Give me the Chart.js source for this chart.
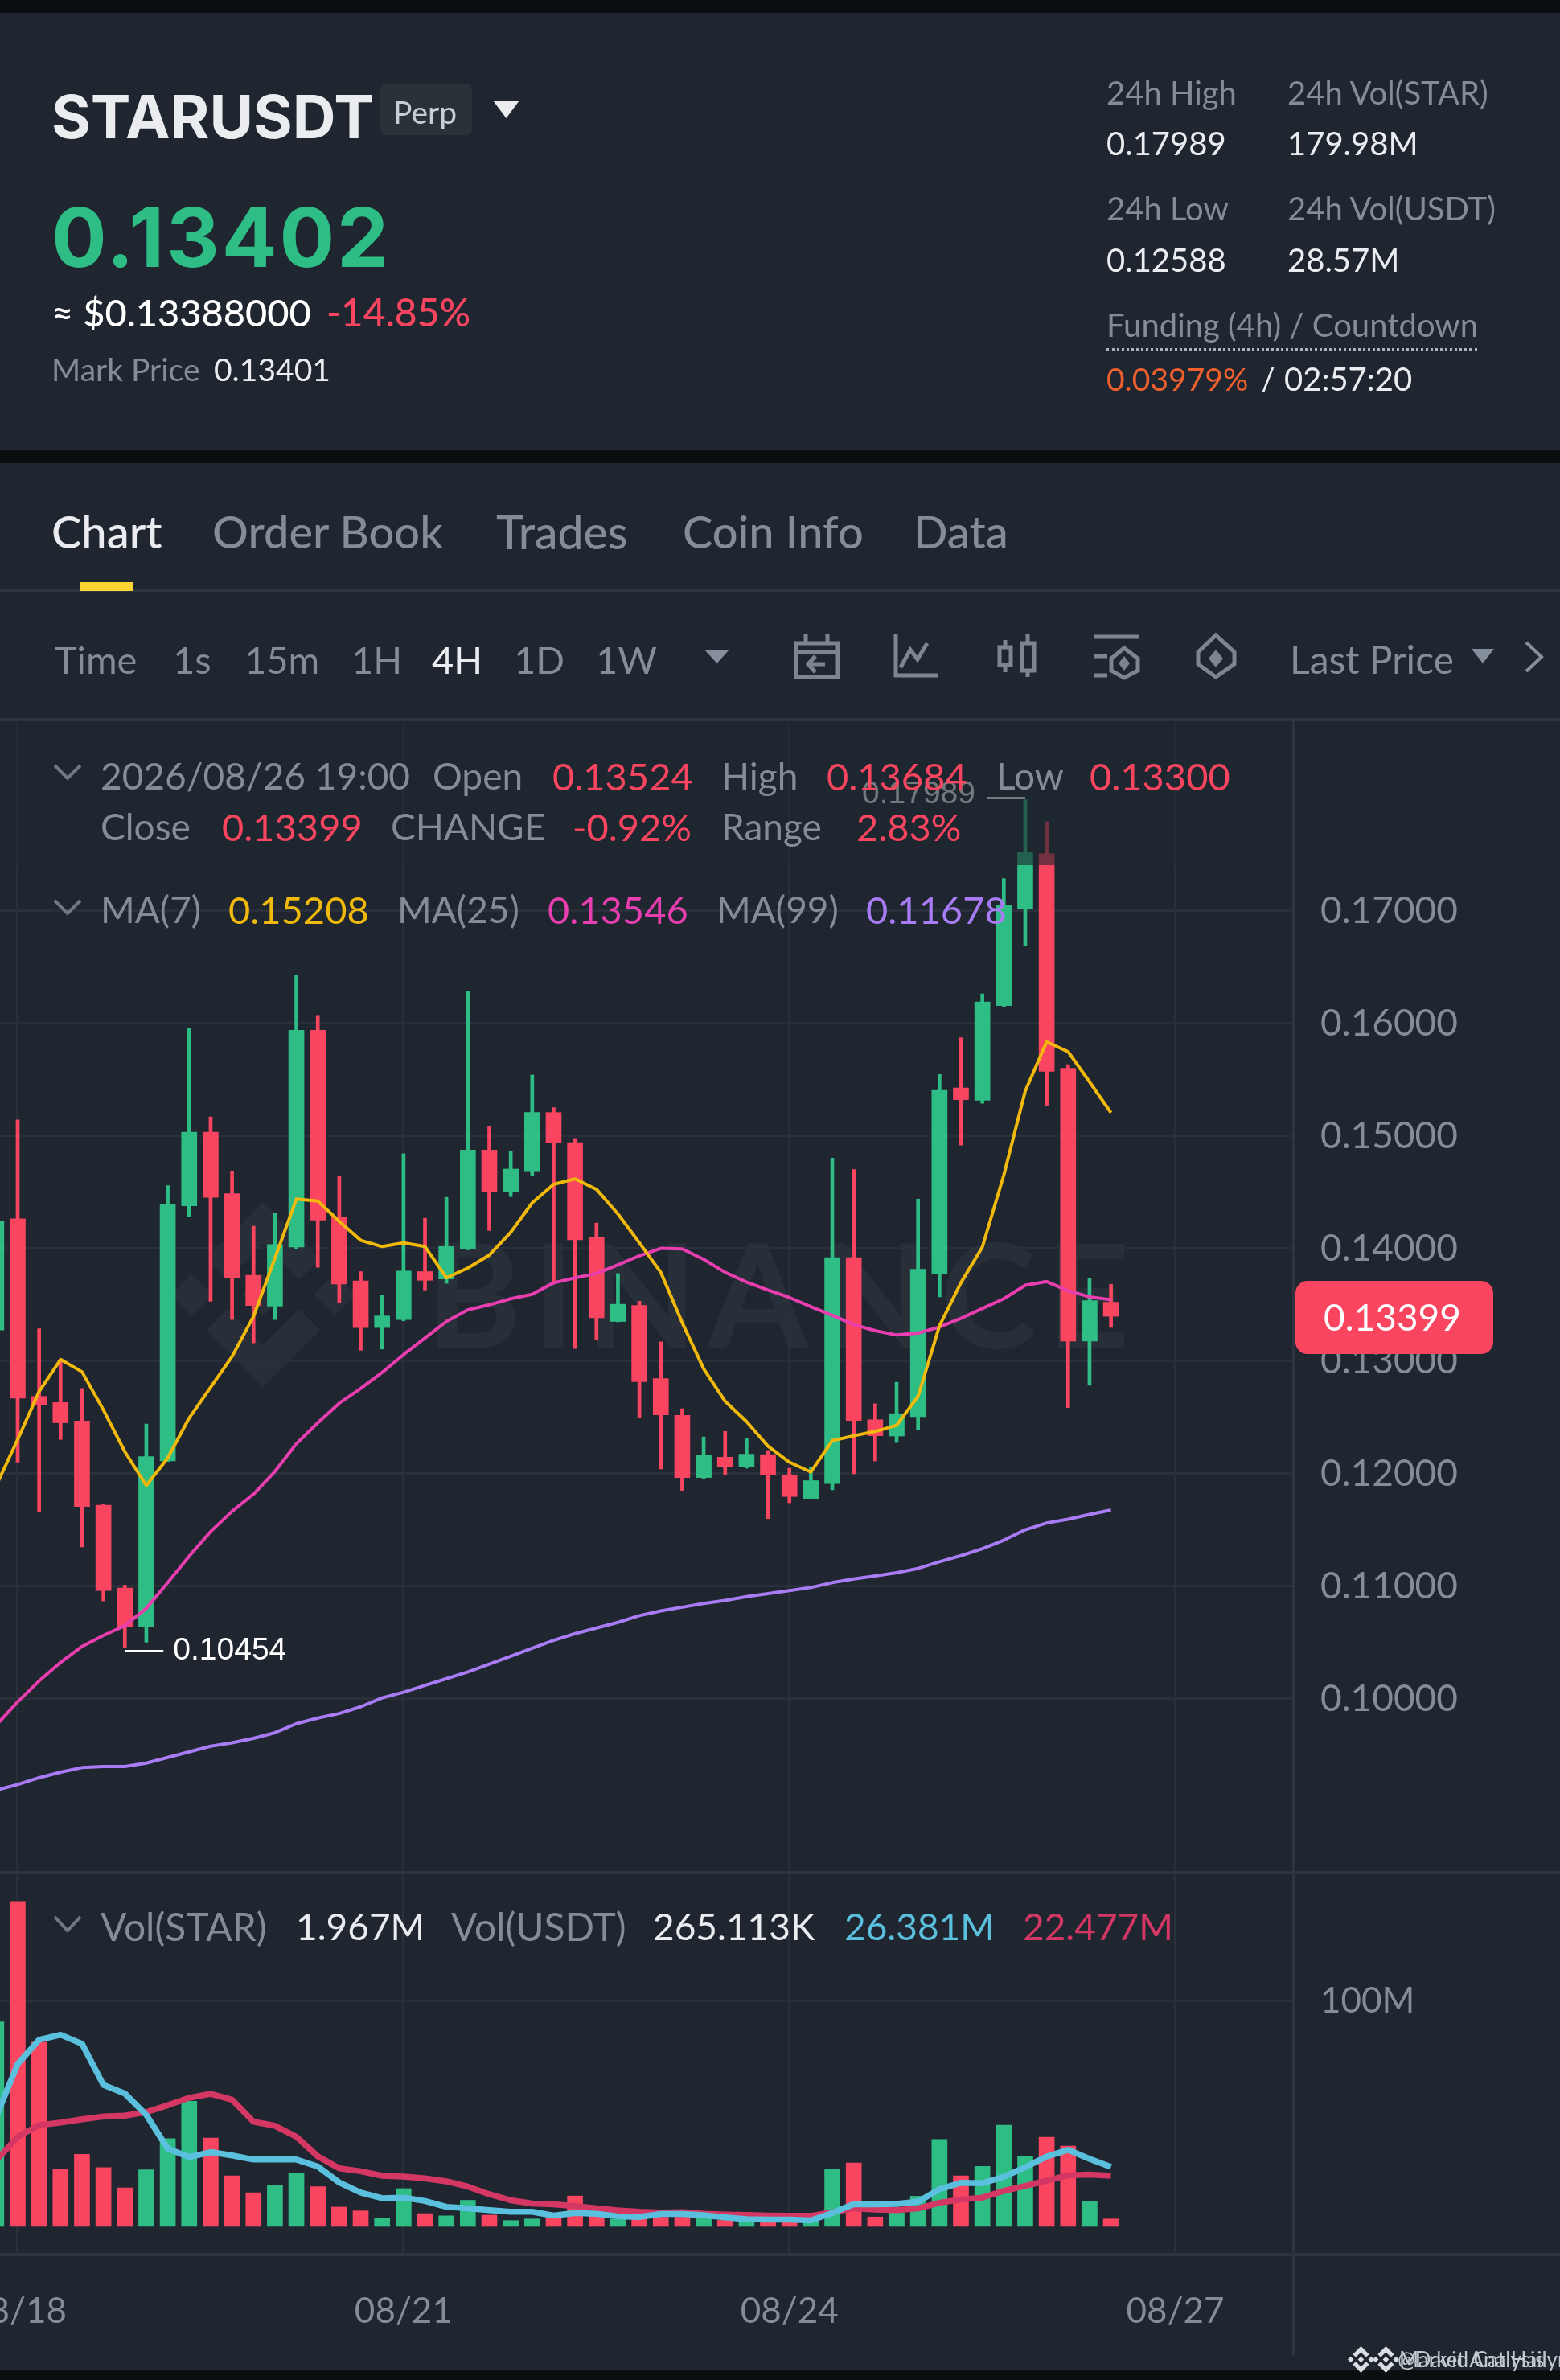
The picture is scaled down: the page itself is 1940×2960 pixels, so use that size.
<!DOCTYPE html>
<html>
<head>
<meta charset="utf-8">
<title>STARUSDT</title>
<script src="https://cdn.jsdelivr.net/npm/chart.js@4/dist/chart.umd.min.js"></script>
<style>
html,body{margin:0;padding:0;background:#0b0e11;}
#page{position:relative;width:1940px;height:2960px;overflow:hidden;background:#0b0e11;font-family:Lato,sans-serif;}
.panel{position:absolute;left:0;width:1940px;background:#1f2630;}
.rule{position:absolute;background:#2e3541;}
.t{position:absolute;white-space:nowrap;transform:translateY(-50%);line-height:1;}
canvas{position:absolute;left:0;}
svg{position:absolute;left:0;top:0;}
</style>
</head>
<body>
<div id="page">
  <div class="panel" style="top:16px;height:544px"></div>
  <div class="panel" style="top:576px;height:2371px"></div>

  <svg width="1940" height="2960" style="z-index:1">
    <g fill="#ffffff" opacity="0.045">
      <g transform="translate(212,1495) scale(1.82)">
        <path d="M38.73 53.2l24.59-24.58 24.6 24.6 14.3-14.31L63.32 0 24.42 38.9zM0 63.31l14.3-14.31 14.31 14.31-14.31 14.3zM38.73 73.41l24.59 24.59 24.6-24.6 14.31 14.29-38.9 38.91-38.91-38.88zM98 63.31l14.3-14.31 14.31 14.3-14.31 14.32zM77.83 63.3L63.32 48.78 52.59 59.51l-1.24 1.23-2.54 2.54 14.51 14.5 14.51-14.47z"/>
      </g>
      <text x="530" y="1677" font-family="Lato" font-weight="700" font-size="180" textLength="875">BINANCE</text>
    </g>
  </svg>

  <canvas id="priceChart" width="1940" height="1435" style="top:893px;z-index:2"></canvas>
  <canvas id="volChart" width="1940" height="618" style="top:2329px;z-index:2"></canvas>

  <div style="position:absolute;left:0;top:897px;width:1607px;height:179px;background:rgba(31,38,48,0.62);z-index:3"></div>

  <div class="rule" style="left:0;top:732px;width:1940px;height:4px;z-index:4"></div>
  <div class="rule" style="left:0;top:893px;width:1940px;height:4px;z-index:4"></div>
  <div class="rule" style="left:0;top:2327px;width:1940px;height:4px;z-index:4"></div>
  <div class="rule" style="left:0;top:2802px;width:1940px;height:4px;z-index:4"></div>
  <div class="rule" style="left:1607px;top:893px;width:3px;height:2037px;z-index:4"></div>
  <div style="position:absolute;left:100px;top:724px;width:65px;height:11px;background:#fcd535;z-index:5"></div>
  <div style="position:absolute;left:473px;top:104px;width:114px;height:64px;border-radius:8px;background:#2b3139;z-index:4"></div>
  <div style="position:absolute;left:1376px;top:433px;width:461px;border-top:3px dotted #aeb4bc;z-index:4"></div>

  <svg width="1940" height="2960" style="z-index:5">
    <polygon points="613,125 646,125 629.5,147" fill="#eaecef"/>
    <polygon points="876,808 907,808 891.5,825" fill="#848e9c"/>
    <polygon points="1830,807 1858,807 1844,825" fill="#848e9c"/>
    <polyline points="1898,799 1917,817 1898,835" fill="none" stroke="#848e9c" stroke-width="4"/>
    <g fill="none" stroke="#7d8592" stroke-width="5">
      <rect x="990" y="800" width="52" height="42"/>
      <path d="M990 811H1042M1002 788V800M1029 788V800M1026 826H1006M1014 816L1005 826L1014 836"/>
      <path d="M1114 788V840H1167M1120 830L1132 808L1141 820L1153 800"/>
      <rect x="1243" y="805" width="14" height="22"/>
      <rect x="1271" y="800" width="15" height="34"/>
      <path d="M1250 796V805M1250 827V836M1278 789V800M1278 834V842"/>
      <path d="M1361 792H1416M1361 816H1377M1361 840H1377M1398 806L1415 819V834L1398 843L1382 834V819Z"/>
      <path d="M1512 790L1535 811V826L1512 842L1490 826V811Z"/>
    </g>
    <polygon points="1398,816 1405,825 1398,834 1391,825" fill="#7d8592"/>
    <polygon points="1512,808 1521,819 1512,830 1503,819" fill="#7d8592"/>
    <polyline points="68,952 84,968 100,952" fill="none" stroke="#6f7785" stroke-width="4"/>
    <polyline points="68,1120 84,1136 100,1120" fill="none" stroke="#6f7785" stroke-width="4"/>
    <polyline points="68,2384 84,2401 100,2384" fill="none" stroke="#6f7785" stroke-width="4"/>
    <g fill="#d9dce1">
      <g transform="translate(1676,2918) scale(0.26)"><path d="M38.73 53.2l24.59-24.58 24.6 24.6 14.3-14.31L63.32 0 24.42 38.9zM0 63.31l14.3-14.31 14.31 14.31-14.31 14.3zM38.73 73.41l24.59 24.59 24.6-24.6 14.31 14.29-38.9 38.91-38.91-38.88zM98 63.31l14.3-14.31 14.31 14.3-14.31 14.32zM77.83 63.3L63.32 48.78 52.59 59.51l-1.24 1.23-2.54 2.54 14.51 14.5 14.51-14.47z"/></g>
      <g transform="translate(1707,2918) scale(0.26)"><path d="M38.73 53.2l24.59-24.58 24.6 24.6 14.3-14.31L63.32 0 24.42 38.9zM0 63.31l14.3-14.31 14.31 14.31-14.31 14.3zM38.73 73.41l24.59 24.59 24.6-24.6 14.31 14.29-38.9 38.91-38.91-38.88zM98 63.31l14.3-14.31 14.31 14.3-14.31 14.32zM77.83 63.3L63.32 48.78 52.59 59.51l-1.24 1.23-2.54 2.54 14.51 14.5 14.51-14.47z"/></g>
    </g>
  </svg>
</div>

<script>
// candles, one per 4 hours
var opens = [.13277,.14265,.12687,.12633,.12469,.11720,.10984,.10640,.12114,.14380,.15035,.14489,.13763,.13490,.14014,.15941,.14276,.13714,.13299,.13370,.13796,.13730,.13998,.14876,.14505,.14691,.15209,.14942,.14101,.13353,.13495,.12846,.12518,.11967,.12147,.12060,.12170,.11983,.11781,.11912,.13921,.12480,.12335,.12507,.13779,.15428,.15319,.16159,.17016,.17508,.15602,.13179,.13524];
var highs = [.14500,.15144,.13288,.13015,.12758,.11732,.11011,.12442,.14560,.15957,.15171,.14691,.14200,.14314,.16427,.16072,.14642,.13796,.13588,.14844,.14270,.14456,.16290,.15084,.14866,.15542,.15253,.14980,.14227,.13779,.13533,.13173,.12578,.12327,.12376,.12311,.12207,.12049,.12060,.14805,.14702,.12622,.12813,.14440,.15548,.15875,.16263,.17289,.17989,.17792,.15635,.13741,.13684];
var lows = [.13000,.12103,.11661,.12305,.11350,.10870,.10454,.10504,.12110,.14281,.13533,.13370,.13162,.13370,.14000,.13834,.13523,.13097,.13108,.13360,.13632,.13692,.13990,.14161,.14462,.14647,.13686,.13113,.13195,.13350,.12496,.12043,.11852,.11960,.11994,.12050,.11601,.11743,.11780,.11858,.12000,.12114,.12278,.12393,.13572,.14920,.15291,.16150,.16694,.15270,.12588,.12786,.13300];
var closes = [.14243,.12671,.12616,.12453,.11710,.10962,.10640,.12152,.14390,.15035,.14456,.13741,.13495,.14036,.15941,.14254,.13686,.13299,.13402,.13801,.13719,.14019,.14876,.14505,.14707,.15209,.14942,.14079,.13386,.13506,.12818,.12524,.11967,.12163,.12060,.12174,.11994,.11798,.11939,.13921,.12474,.12338,.12534,.13817,.15406,.15324,.16192,.17055,.17519,.15575,.13179,.13539,.13399];

var ma7 = [.11896,.12305,.12731,.13015,.12906,.12567,.12196,.11896,.12141,.12496,.12769,.13042,.13397,.13916,.14440,.14423,.14243,.14074,.14019,.14052,.14019,.13741,.13828,.13943,.14145,.14407,.14571,.14620,.14527,.14309,.14052,.13790,.13342,.12933,.12644,.12464,.12245,.12103,.12016,.12294,.12338,.12376,.12431,.12687,.13315,.13697,.14014,.14653,.15400,.15837,.15750,.15482,.15208];
var ma25 = [.09767,.09974,.10160,.10324,.10466,.10564,.10651,.10804,.11033,.11268,.11486,.11667,.11819,.12021,.12267,.12453,.12627,.12758,.12900,.13059,.13206,.13353,.13457,.13501,.13555,.13594,.13697,.13741,.13779,.13856,.13937,.14003,.13998,.13905,.13790,.13703,.13632,.13566,.13484,.13408,.13326,.13271,.13233,.13250,.13304,.13381,.13468,.13555,.13675,.13708,.13626,.13572,.13546];
var ma99 = [.0919,.0924,.0930,.0935,.0939,.0940,.0940,.0943,.0948,.0953,.0958,.0961,.0965,.0970,.0978,.0983,.0987,.0993,.1001,.1006,.1012,.1018,.1024,.1031,.1038,.1045,.1052,.1058,.1063,.1068,.1074,.10782,.10815,.10848,.10875,.10908,.10935,.10962,.10990,.11033,.11066,.11093,.11121,.11159,.11219,.11273,.11334,.11410,.11503,.11563,.11596,.11639,.11678];

// volume in millions of STAR
var volumes = [90.8,144.3,81.8,25.2,32,26.1,17.1,25.1,39,55.6,39.2,22.5,15,18.2,23.7,17.6,8.6,6.9,3.8,16.8,5.7,4.7,11.6,5,2.6,3.3,4.5,13.5,6,3.3,4,4.1,4.1,3.8,2.7,2.7,2.7,2.7,2.7,25.2,28.2,4.2,6,13.4,38.6,22.5,26.7,45,31.1,39.6,35.7,11.1,3.3];
var volMaBlue = [48.8,72.1,82.9,85.1,81.1,62.8,59,49.5,34.5,30.8,33,31.5,29.7,29.7,29.7,26.6,19.5,15,12.5,12.8,11.3,8.7,8,7.2,6.5,6.5,4.8,6,5.6,4.5,4.2,5.5,5.5,5,4,3.2,3,3,2.7,6,9.9,9.8,10,11,16.5,19.4,19.2,22,26.3,31,34,30,26.4];
var volMaRed = [29.3,39.8,45,46.1,47.6,48.8,49.2,50.8,53.8,57.1,58.9,56.3,46.5,44.7,39.8,31.1,25.8,24.5,22.5,22.1,21.3,20,17.7,14.3,11.6,10.2,9.8,9,8,7.1,6.5,6.2,6.3,5.6,5.3,5.1,4.8,4.7,4.7,6.3,8,7.5,7.2,8,10.5,12,12.8,15.8,18,20.3,22.7,23,22.5];

var priceTicks = [.10,.11,.12,.13,.14,.15,.16,.17];
var volumeTicks = [100];
var dateTickIndex = [1,19,37,55];
var dateTickLabels = ['08/18','08/21','08/24','08/27'];
var lowIndex = 6;
var highIndex = 48;

var GREEN = '#2ebd85', RED = '#f9455f', GRID = '#2a303b', MUTED = '#858c98';

var page = document.getElementById('page');
function label(text, x, cy, size, color, weight, family, spacing) {
    var el = document.createElement('span');
    el.className = 't';
    el.textContent = text;
    el.style.cssText = 'left:' + x + 'px;top:' + cy + 'px;font-size:' + size + 'px;color:' + color +
        ';font-weight:' + (weight || 400) + ';z-index:6;' + (family ? 'font-family:' + family + ';' : '') +
        (spacing ? 'letter-spacing:' + spacing + 'px;' : '');
    page.appendChild(el);
}

// header
label('STARUSDT', 64, 145, 74.5, '#eaecef', 700, 'Inter');
label('Perp', 489, 139, 39, '#c9ced6');
label('0.13402', 64, 295, 102, GREEN, 700, 'Inter', 2.8);
label('≈ $0.13388000', 64, 388, 47, '#ffffff', 500);
label('-14.85%', 406, 388, 48, RED, 500);
label('Mark Price', 64, 459, 39, MUTED);
label('0.13401', 266, 459, 39, '#eaecef');
label('24h High', 1376, 115, 40, MUTED);
label('24h Vol(STAR)', 1601, 115, 40, MUTED);
label('0.17989', 1376, 178, 40, '#eaecef');
label('179.98M', 1601, 178, 40, '#eaecef');
label('24h Low', 1376, 259, 40, MUTED);
label('24h Vol(USDT)', 1601, 259, 40, MUTED);
label('0.12588', 1376, 323, 40, '#eaecef');
label('28.57M', 1601, 323, 40, '#eaecef');
label('Funding (4h) / Countdown', 1376, 404, 40, MUTED);
label('0.03979%', 1376, 471, 39, '#f0602f');
label('/', 1568, 471, 40, '#eaecef');
label('02:57:20', 1597, 471, 40, '#eaecef');

// tabs and toolbar
label('Chart', 64, 661, 56, '#eaecef', 500);
label('Order Book', 264, 661, 56, MUTED, 500);
label('Trades', 617, 661, 57, MUTED, 500);
label('Coin Info', 849, 661, 56, MUTED, 500);
label('Data', 1136, 661, 56, MUTED, 500);
label('Time', 68, 820, 47, MUTED);
label('1s', 215, 820, 47, MUTED);
label('15m', 304, 820, 47, MUTED);
label('1H', 437, 820, 47, MUTED);
label('4H', 537, 820, 47, '#eaecef');
label('1D', 639, 820, 47, MUTED);
label('1W', 741, 820, 47, MUTED);
label('Last Price', 1604, 820, 48, MUTED);

// legend over the price pane
label('2026/08/26 19:00', 125, 965, 46, MUTED);
label('Open', 538, 965, 46, MUTED);
label('0.13524', 687, 965, 47, RED);
label('High', 897, 965, 46, MUTED);
label('0.13684', 1028, 965, 47, RED);
label('Low', 1239, 965, 46, MUTED);
label('0.13300', 1355, 965, 47, RED);
label('Close', 125, 1028, 46, MUTED);
label('0.13399', 276, 1028, 47, RED);
label('CHANGE', 486, 1028, 46, MUTED);
label('-0.92%', 712, 1028, 47, RED);
label('Range', 897, 1028, 46, MUTED);
label('2.83%', 1065, 1028, 47, RED);
label('MA(7)', 125, 1131, 46, MUTED);
label('0.15208', 284, 1131, 47, '#f0b90b');
label('MA(25)', 494, 1131, 46, MUTED);
label('0.13546', 681, 1131, 47, '#e83eb0');
label('MA(99)', 891, 1131, 46, MUTED);
label('0.11678', 1077, 1131, 47, '#a97cf5');

// legend over the volume pane
label('Vol(STAR)', 125, 2396, 48, MUTED);
label('1.967M', 368, 2396, 46, '#eaecef');
label('Vol(USDT)', 561, 2396, 48, MUTED);
label('265.113K', 812, 2396, 46, '#eaecef');
label('26.381M', 1050, 2396, 46, '#5bc0de');
label('22.477M', 1272, 2396, 46, '#d43763');

label('Market Analysis', 1740, 2934, 26, '#c4c9d0');
label('@David Cat Hailyn', 1738, 2934, 26, '#c4c9d0');

function points(values) {
    return values.map(function (v, i) { return {x: i, y: v}; });
}
function candleColor(ctx) {
    var i = ctx.dataIndex;
    return closes[i] >= opens[i] ? GREEN : RED;
}
function lineSet(values, color, width) {
    return {type: 'line', data: points(values), borderColor: color, borderWidth: width,
        pointRadius: 0, tension: 0, order: 0, fill: false, borderJoinStyle: 'round'};
}
function xAxis(showLabels, height) {
    return {
        type: 'linear', min: 0.175, max: 60.53, offset: false,
        border: {display: false},
        grid: {color: GRID, lineWidth: 3, drawTicks: false, offset: false},
        afterBuildTicks: function (s) {
            s.ticks = dateTickIndex.map(function (v) { return {value: v}; });
        },
        afterFit: function (s) {
            s.paddingLeft = 0; s.paddingRight = 0; s.height = height;
        },
        ticks: {
            display: showLabels, autoSkip: false, maxRotation: 0, padding: 44,
            color: MUTED, font: {family: 'Lato', size: 44},
            callback: function (v) { return dateTickLabels[dateTickIndex.indexOf(v)]; }
        }
    };
}
function yAxis(min, max, tickValues, fmt, size) {
    return {
        type: 'linear', position: 'right', min: min, max: max,
        border: {display: false},
        grid: {color: GRID, lineWidth: 3, drawTicks: false},
        afterBuildTicks: function (s) {
            s.ticks = tickValues.map(function (v) { return {value: v}; });
        },
        afterFit: function (s) {
            s.width = 331; s.paddingTop = 0; s.paddingBottom = 0;
        },
        ticks: {
            padding: 33, color: MUTED, font: {family: 'Lato', size: size},
            callback: fmt
        }
    };
}

// min/max labels and the last price tag
var pricePlugin = {
    id: 'priceMarks',
    afterDraw: function (chart) {
        var c = chart.ctx, x = chart.scales.x, y = chart.scales.y;
        c.save();
        c.font = '39px "Liberation Sans"';
        c.textBaseline = 'middle';

        var lx = x.getPixelForValue(lowIndex), ly = y.getPixelForValue(lows[lowIndex]);
        c.strokeStyle = '#ffffff'; c.lineWidth = 3;
        c.beginPath(); c.moveTo(lx, ly + 4); c.lineTo(lx + 48, ly + 4); c.stroke();
        c.fillStyle = '#ffffff'; c.textAlign = 'left';
        c.fillText(lows[lowIndex].toFixed(5), lx + 60, ly + 4);

        var hx = x.getPixelForValue(highIndex), hy = y.getPixelForValue(highs[highIndex]);
        c.beginPath(); c.moveTo(hx - 48, hy - 2); c.lineTo(hx, hy - 2); c.stroke();
        c.textAlign = 'right';
        c.fillText(highs[highIndex].toFixed(5), hx - 62, hy - 6);

        var last = closes[closes.length - 1], ty = y.getPixelForValue(last);
        c.fillStyle = RED;
        c.beginPath(); c.roundRect(1611, ty - 44, 246, 91, 15); c.fill();
        c.fillStyle = '#ffffff'; c.textAlign = 'left';
        c.font = '46px Lato';
        c.fillText(last.toFixed(5), 1646, ty + 3);
        c.restore();
    }
};

var common = {
    responsive: false, animation: false,
    layout: {padding: 0},
    plugins: {legend: {display: false}, tooltip: {enabled: false}}
};

new Chart(document.getElementById('priceChart'), {
    type: 'bar',
    data: {datasets: [
        lineSet(ma7, '#f0b90b', 4),
        lineSet(ma25, '#e83eb0', 4),
        lineSet(ma99, '#a97cf5', 4),
        {data: opens.map(function (o, i) { return {x: i, y: [o, closes[i]]}; }),
         backgroundColor: candleColor, barThickness: 19, grouped: false, order: 1},
        {data: lows.map(function (l, i) { return {x: i, y: [l, highs[i]]}; }),
         backgroundColor: candleColor, barThickness: 4, grouped: false, order: 2}
    ]},
    options: Object.assign({}, common, {
        scales: {
            x: xAxis(false, 0),
            y: yAxis(.08464, .18714, priceTicks, function (v) { return v.toFixed(5); }, 46)
        }
    }),
    plugins: [pricePlugin]
});

new Chart(document.getElementById('volChart'), {
    type: 'bar',
    data: {datasets: [
        lineSet(volMaBlue, '#5bc0de', 7.5),
        lineSet(volMaRed, '#d43763', 7.5),
        {data: points(volumes), backgroundColor: candleColor, barThickness: 19, grouped: false, order: 1}
    ]},
    options: Object.assign({}, common, {
        scales: {
            x: xAxis(true, 143),
            y: yAxis(-12.5, 157.1, volumeTicks, function (v) { return v + 'M'; }, 44)
        }
    })
});
</script>
</body>
</html>
